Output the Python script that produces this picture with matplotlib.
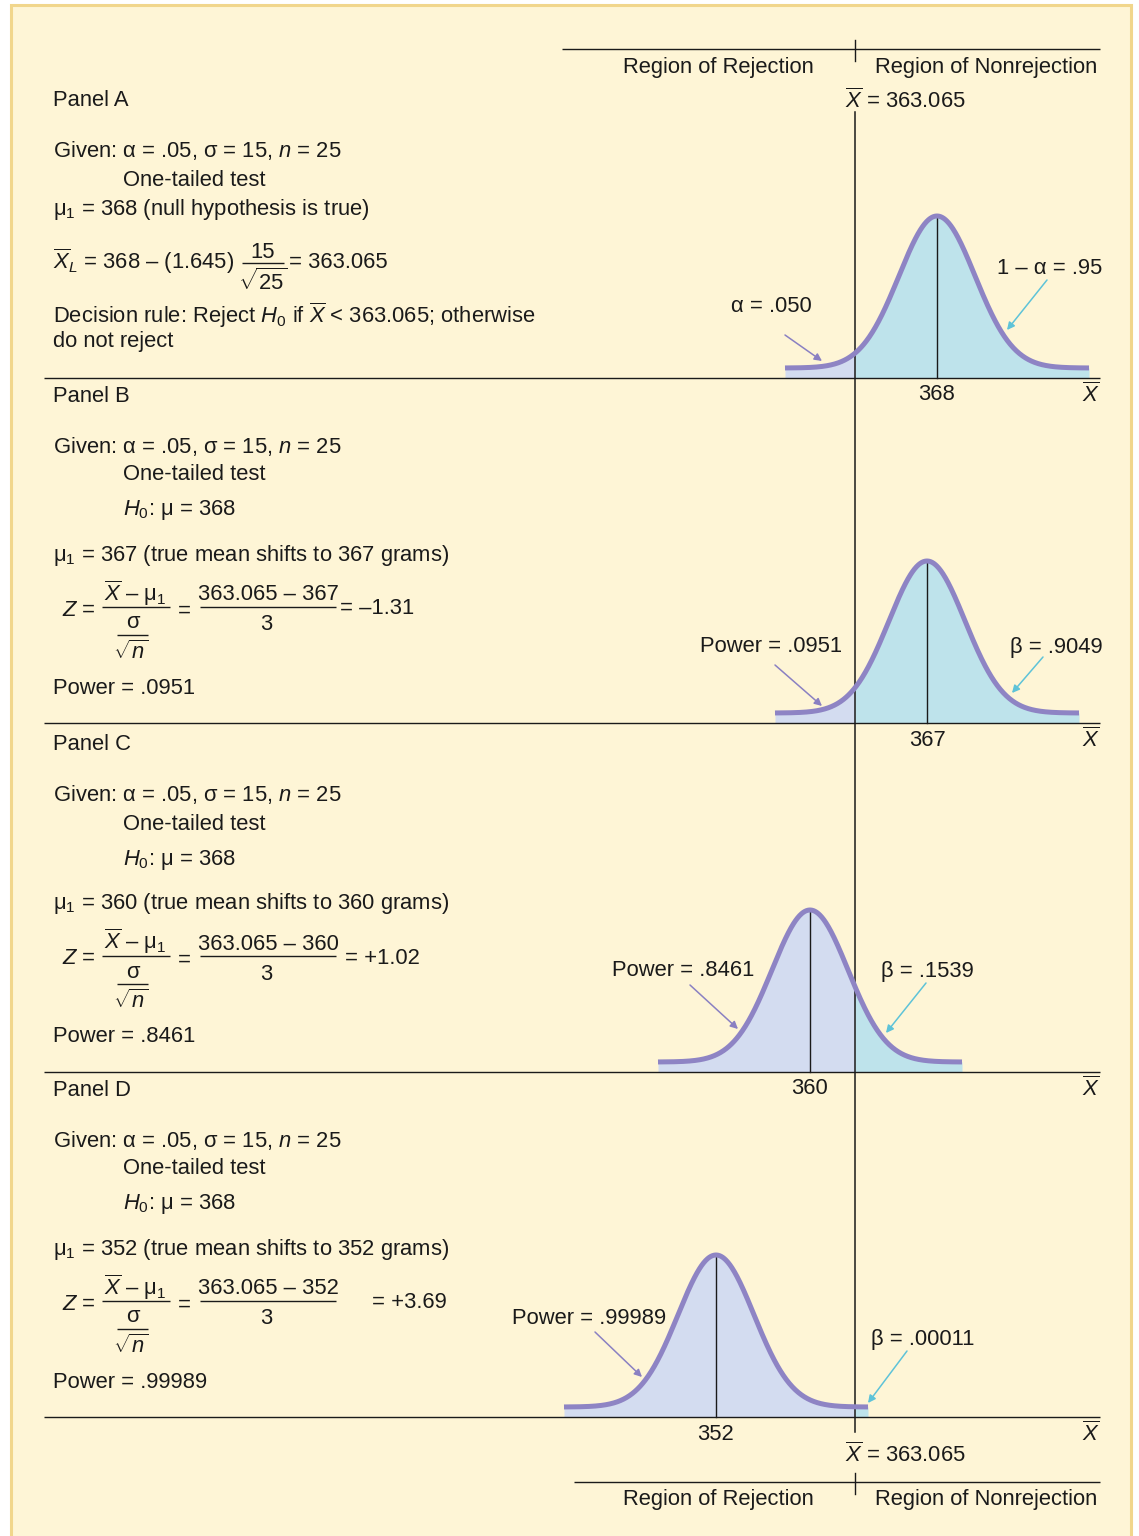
#Power of a one-tailed test: four panels with the sampling distribution
#of the mean shifted to different true means
import numpy as np
import matplotlib.pyplot as plt
from matplotlib.patches import Rectangle

plt.rcParams["font.family"] = ["Liberation Sans", "DejaVu Sans"]
plt.rcParams["mathtext.fontset"] = "custom"
plt.rcParams["mathtext.rm"] = "Liberation Sans"
plt.rcParams["mathtext.it"] = "Liberation Sans:italic"
plt.rcParams["mathtext.bf"] = "Liberation Sans:bold"

# values shown in the figure
panel_names = ["Panel A", "Panel B", "Panel C", "Panel D"]
mu1 = [368, 367, 360, 352]
mu1_notes = ["null hypothesis is true", "true mean shifts to 367 grams",
             "true mean shifts to 360 grams", "true mean shifts to 352 grams"]
z_values = ["", "–1.31", "+1.02", "+3.69"]
power_values = ["", ".0951", ".8461", ".99989"]
left_labels = ["α = .050", "Power = .0951", "Power = .8461", "Power = .99989"]
right_labels = ["1 – α = .95", "β = .9049", "β = .1539", "β = .00011"]
alpha = ".05"
sigma = 15
n = 25
mu0 = 368
z_crit = "1.645"
x_crit = "363.065"

# colours
CREAM = "#FEF5D6"
EDGE = "#F1D68C"
CURVE = "#8E84C4"
LAV = "#D3DCF0"
CYAN = "#BEE3EB"
ARROW_L = "#8A80C2"
ARROW_R = "#5EC3D8"
INK = "#1a1a1a"
FS = 15.8

W, H = 1139, 1536
fig = plt.figure(figsize=(W / 100, H / 100), dpi=100)
ax = fig.add_axes([0, 0, 1, 1])
ax.set_xlim(0, W)
ax.set_ylim(H, 0)
ax.axis("off")

ax.add_patch(Rectangle((11, 5), 1120, 1545, facecolor=CREAM, edgecolor=EDGE,
                       lw=2.2, zorder=0))


def txt(x, yc, s, ha="left"):
    ax.text(x, yc + 7.5, s, ha=ha, va="baseline", fontsize=FS, color=INK,
            zorder=6)


def hline(x0, x1, y, lw=1.0, z=3):
    ax.plot([x0, x1], [y, y], color=INK, lw=lw, solid_capstyle="butt",
            zorder=z)


# layout of the schematic
axis_y = [378, 723, 1072, 1417]
mean_x = [937, 927, 810, 716]
cut_x = 855
sig_px = 38
peak_px = 152
left_text = [(812, 305), (842, 645), (754, 969), (666, 1316)]
right_text = [(997, 267), (1010, 645), (881, 969), (871, 1338)]
left_arrow = [((785, 335), (822, 361)), ((775, 665), (822, 706)),
              ((690, 985), (738, 1029)), ((595, 1332), (642, 1377))]
right_arrow = [((1047, 280), (1007, 330)), ((1043, 657), (1012, 693)),
               ((926, 983), (886, 1033)), ((907, 1351), (868, 1403))]
z_eq_x = [0, 340, 345, 372]

# header / footer: regions and critical value
for y_line, y_lab, y_crit in [(49, 65, 100), (1482, 1497, 1455)]:
    hline(562 if y_line < 100 else 574, 1100, y_line)
    ax.plot([cut_x, cut_x], [y_line - 9, y_line + 12], color=INK, lw=1.0)
    txt(718, y_lab, "Region of Rejection", ha="center")
    txt(875, y_lab, "Region of Nonrejection")
    txt(845, y_crit, rf"$\overline{{X}}$ = {x_crit}")

ax.plot([cut_x, cut_x], [112, 1432], color=INK, lw=1.1, zorder=3.5)

# panel A text
txt(53, 98, panel_names[0])
txt(53, 150, f"Given: α = {alpha}, σ = {sigma}, $n$ = {n}")
txt(123, 179, "One-tailed test")
txt(53, 208, f"μ$_1$ = {mu1[0]} ({mu1_notes[0]})")
txt(53, 261, rf"$\overline{{X}}_L$ = {mu0} – ({z_crit})")
txt(263, 251, f"{sigma}", ha="center")
hline(242, 284, 263)
txt(263, 282, rf"$\sqrt{{{n}}}$", ha="center")
txt(289, 261, f"= {x_crit}")
txt(53, 315, rf"Decision rule: Reject $H_0$ if $\overline{{X}}$ < {x_crit}; otherwise")
txt(53, 340, "do not reject")

# panels B-D text
for i in range(1, 4):
    Y = axis_y[i]
    F = Y - 116
    txt(53, Y - 329, panel_names[i])
    txt(53, Y - 278, f"Given: α = {alpha}, σ = {sigma}, $n$ = {n}")
    txt(123, Y - 250, "One-tailed test")
    txt(123, Y - 215, f"$H_0$: μ = {mu0}")
    txt(53, Y - 170, f"μ$_1$ = {mu1[i]} ({mu1_notes[i]})")
    txt(62, F + 1, "$Z$ =")
    txt(135, F - 14, r"$\overline{X}$ – μ$_1$", ha="center")
    hline(102, 170, F)
    txt(133, F + 14, "σ", ha="center")
    hline(117, 148, F + 28)
    txt(131, F + 44, r"$\sqrt{n}$", ha="center")
    txt(178, F + 2, "=")
    txt(268, F - 14, f"{x_crit} – {mu1[i]}", ha="center")
    hline(200, 336, F)
    txt(266, F + 16, f"{int(sigma / np.sqrt(n))}", ha="center")
    txt(z_eq_x[i], F, f"= {z_values[i]}")
    txt(53, Y - 37, f"Power = {power_values[i]}")

# distributions
for i in range(4):
    Y = axis_y[i]
    cx = mean_x[i]
    base = Y - 10
    xs = np.linspace(cx - 4 * sig_px, cx + 4 * sig_px, 600)
    xs = np.union1d(xs, [cut_x])
    xs = xs[(xs >= cx - 4 * sig_px) & (xs <= cx + 4 * sig_px)]
    ys = base - peak_px * np.exp(-0.5 * ((xs - cx) / sig_px) ** 2)
    ax.fill_between(xs, ys, Y, where=xs <= cut_x, color=LAV, lw=0, zorder=1)
    ax.fill_between(xs, ys, Y, where=xs >= cut_x, color=CYAN, lw=0, zorder=1)
    ax.plot([cx, cx], [base - peak_px, Y], color=INK, lw=1.0, zorder=2)
    ax.plot(xs, ys, color=CURVE, lw=3.6, solid_capstyle="butt", zorder=4)
    hline(44, 1100, Y)
    txt(cx, Y + 15, str(mu1[i]), ha="center")
    txt(1091, Y + 17, r"$\overline{X}$", ha="center")

    lx, ly = left_text[i]
    txt(lx, ly, left_labels[i], ha="right")
    rx, ry = right_text[i]
    txt(rx, ry, right_labels[i])
    for (tail, tip), col in [(left_arrow[i], ARROW_L), (right_arrow[i], ARROW_R)]:
        ax.annotate("", xy=tip, xytext=tail, zorder=5,
                    arrowprops=dict(arrowstyle="-|>", color=col, lw=1.1,
                                    mutation_scale=11, shrinkA=0, shrinkB=0))

fig.savefig("out.png", dpi=100, facecolor="white")
